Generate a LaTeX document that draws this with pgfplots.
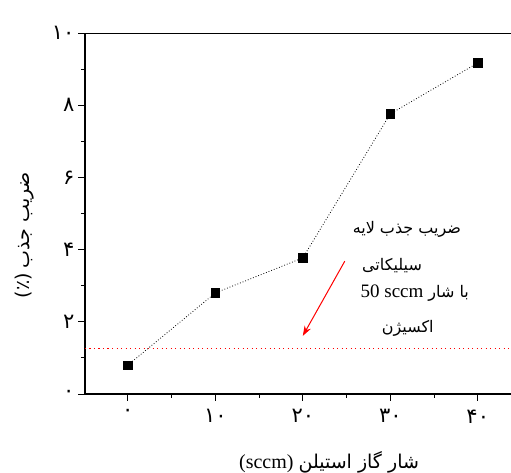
\documentclass[border=0pt]{standalone}
\usepackage{pgfplots}
\pgfplotsset{compat=1.18}
\usetikzlibrary{arrows.meta}
\usepackage{fontspec}
\setmainfont{Liberation Serif}
\newfontfamily\arabicfont[Script=Arabic]{DejaVu Sans}
\TeXXeTstate=1
\begin{document}
\begin{tikzpicture}
\useasboundingbox (-85pt,-79pt) rectangle (426pt,394pt);
\begin{axis}[
  at={(0pt,0pt)}, anchor=south west,
  scale only axis, width=426pt, height=361pt,
  xmin=-4.9, xmax=43.8, ymin=0, ymax=10,
  axis lines=left, axis line style={-, line width=1.3pt},
  clip=false,
  xtick={0,10,20,30,40},
  xticklabels={{\arabicfont ۰},{\arabicfont ۱۰},{\arabicfont ۲۰},{\arabicfont ۳۰},{\arabicfont ۴۰}},
  ytick={0,2,4,6,8,10},
  yticklabels={{\arabicfont ۰},{\arabicfont ۲},{\arabicfont ۴},{\arabicfont ۶},{\arabicfont ۸},{\arabicfont ۱۰}},
  minor x tick num=1, minor y tick num=1,
  tick align=outside,
  major tick length=7pt, minor tick length=4pt,
  tick style={black, line width=0.8pt},
  tick label style={font=\fontsize{21}{23}\selectfont},
  xticklabel style={yshift=-5pt},
]
\addplot[black, dotted, line width=0.8pt, mark=square*, mark size=4.2pt, mark options={solid}]
  coordinates {(0,0.80) (10,2.80) (20,3.77) (30,7.76) (40,9.17)};
\addplot[red, line width=1.2pt, dash pattern=on 1.3pt off 3.2pt] coordinates {(-4.9,1.25) (43.8,1.25)};
\draw[line width=0.8pt] (rel axis cs:0,1) -- (rel axis cs:1,1);
\draw[red, line width=1pt, -{Stealth[length=10pt,width=7pt]}] (axis cs:24.8,3.68) -- (axis cs:20.0,1.61);
\node[font=\arabicfont\fontsize{16}{18}\selectfont] at (axis cs:31.9,4.57) {\beginR ضریب جذب لایه\endR};
\node[font=\arabicfont\fontsize{16}{18}\selectfont] at (axis cs:30.2,3.57) {\beginR سیلیکاتی\endR};
\node at (axis cs:32.8,2.80) {{\fontsize{19}{21}\selectfont 50 sccm}\ \ {\arabicfont\fontsize{16}{18}\selectfont\beginR با شار\endR}};
\node[font=\arabicfont\fontsize{16}{18}\selectfont] at (axis cs:32.0,1.83) {\beginR اکسیژن\endR};
\node[rotate=90] at (axis cs:-11.8,4.4) {{\arabicfont\fontsize{19}{21}\selectfont (٪)}\ \ {\arabicfont\fontsize{19}{21}\selectfont\beginR ضریب جذب\endR}};
\node at (axis cs:23.0,-1.88) {{\fontsize{20}{22}\selectfont (sccm)}\ \ {\arabicfont\fontsize{19}{21}\selectfont\beginR شار گاز استیلن\endR}};
\end{axis}
\end{tikzpicture}
\end{document}
